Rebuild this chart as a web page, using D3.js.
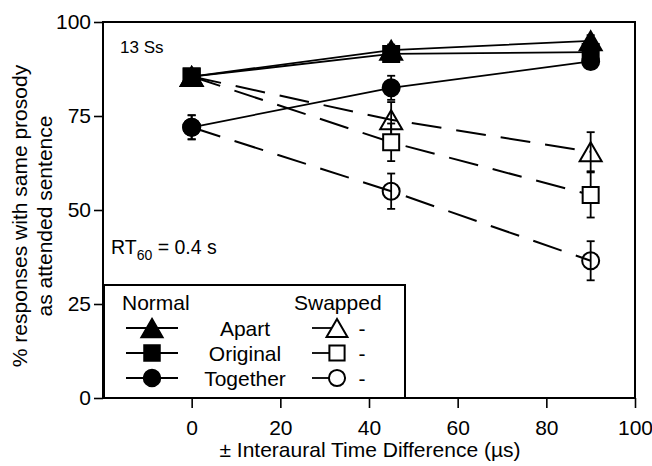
<!DOCTYPE html>
<html>
<head>
<meta charset="utf-8">
<script src="https://cdn.jsdelivr.net/npm/d3@7"></script>
<style>
  body { margin: 0; background: #fff; }
  svg { display: block; }
  text { font-family: "Liberation Sans", Arial, Helvetica, sans-serif; fill: #000; }
</style>
</head>
<body>
<svg id="chart" width="652" height="466"></svg>
<script>
// ---- data ----
const itd = [0, 45, 90];
const xTicks = [0, 20, 40, 60, 80, 100];
const yTicks = [0, 25, 50, 75, 100];

const normalApart      = [85.5, 92.5, 95];
const normalApartErr   = [1.5, 1.5, 1.5];
const normalOriginal   = [85.5, 91.5, 92];
const normalOriginalErr= [1.5, 1.5, 1.5];
const normalTogether   = [72, 82.5, 89.5];
const normalTogetherErr= [3.2, 3.2, 2.0];

const swappedApart      = [85.5, 74, 65.5];
const swappedApartErr   = [1.5, 4.7, 5.2];
const swappedOriginal   = [85.5, 68, 54];
const swappedOriginalErr= [1.5, 5, 6];
const swappedTogether   = [72, 55, 36.5];
const swappedTogetherErr= [3.2, 4.7, 5.2];

const legendRows = ["Apart", "Original", "Together"];

// ---- layout ----
const svg = d3.select("#chart");
const x = d3.scaleLinear().domain([-20, 100]).range([103, 635]);
const y = d3.scaleLinear().domain([0, 100]).range([398, 22]);

// marker path generators (bbox-centred)
function markerPath(shape, s) {
  const p = d3.path();
  if (shape === "triangle") {
    const hw = 11 * s, hh = 9.5 * s;
    p.moveTo(0, -hh); p.lineTo(hw, hh); p.lineTo(-hw, hh); p.closePath();
  } else if (shape === "square") {
    const h = 8 * s;
    p.rect(-h, -h, 2 * h, 2 * h);
  } else {
    p.arc(0, 0, 8.5 * s, 0, 2 * Math.PI);
  }
  return p.toString();
}

const series = [
  {vals: swappedApart, err: swappedApartErr, shape: "triangle", filled: false},
  {vals: swappedOriginal, err: swappedOriginalErr, shape: "square", filled: false},
  {vals: swappedTogether, err: swappedTogetherErr, shape: "circle", filled: false},
  {vals: normalTogether, err: normalTogetherErr, shape: "circle", filled: true},
  {vals: normalOriginal, err: normalOriginalErr, shape: "square", filled: true},
  {vals: normalApart, err: normalApartErr, shape: "triangle", filled: true}
];

const line = d3.line().x((d, i) => x(itd[i])).y(d => y(d));

// frame
svg.append("rect").attr("x", x(-20)).attr("y", y(100))
  .attr("width", x(100) - x(-20)).attr("height", y(0) - y(100))
  .attr("fill", "none").attr("stroke", "#000").attr("stroke-width", 2);

// axes
const yAxis = svg.append("g").attr("transform", `translate(${x(-20)},0)`)
  .call(d3.axisLeft(y).tickValues(yTicks).tickSize(9).tickPadding(3));
const xAxis = svg.append("g").attr("transform", `translate(0,${y(0)})`)
  .call(d3.axisBottom(x).tickValues(xTicks).tickSize(10).tickPadding(12));
[xAxis, yAxis].forEach(g => {
  g.select(".domain").remove();
  g.selectAll(".tick line").attr("stroke", "#000").attr("stroke-width", 1.6);
  g.selectAll(".tick text").style("font-size", "21px")
    .style("font-family", '"Liberation Sans", Arial, Helvetica, sans-serif');
});

// series lines, error bars and markers
series.forEach(s => {
  svg.append("path").datum(s.vals).attr("d", line)
    .attr("fill", "none").attr("stroke", "#000")
    .attr("stroke-width", s.filled ? 1.8 : 2)
    .attr("stroke-dasharray", s.filled ? null : "30,15");
});
series.forEach(s => {
  const g = svg.append("g");
  s.vals.forEach((v, i) => {
    const cx = x(itd[i]);
    const e = s.err[i];
    g.append("line").attr("x1", cx).attr("x2", cx).attr("y1", y(v + e)).attr("y2", y(v - e))
      .attr("stroke", "#000").attr("stroke-width", 1.8);
    [v + e, v - e].forEach(t => {
      g.append("line").attr("x1", cx - 4).attr("x2", cx + 4).attr("y1", y(t)).attr("y2", y(t))
        .attr("stroke", "#000").attr("stroke-width", 1.8);
    });
  });
  g.selectAll("path.m").data(s.vals).join("path").attr("class", "m")
    .attr("transform", (d, i) => `translate(${x(itd[i])},${y(d)})`)
    .attr("d", markerPath(s.shape, 1))
    .attr("fill", s.filled ? "#000" : (s.shape === "square" ? "#fff" : "none"))
    .attr("stroke", "#000").attr("stroke-width", 2);
});

// annotations
svg.append("text").attr("x", 120).attr("y", 53).style("font-size", "17px").text("13 Ss");
const rt = svg.append("text").attr("x", 111).attr("y", 254).style("font-size", "19.5px");
rt.append("tspan").text("RT");
rt.append("tspan").attr("dy", 6).style("font-size", "14px").text("60");
rt.append("tspan").attr("dy", -6).text(" = 0.4 s");

// axis titles
svg.append("text").attr("x", 370).attr("y", 457).attr("text-anchor", "middle")
  .style("font-size", "21px").text("± Interaural Time Difference (µs)");
svg.append("text").attr("transform", "translate(27,216) rotate(-90)").attr("text-anchor", "middle")
  .style("font-size", "21px").text("% responses with same prosody");
svg.append("text").attr("transform", "translate(52,216) rotate(-90)").attr("text-anchor", "middle")
  .style("font-size", "21px").text("as attended sentence");

// legend
const lg = svg.append("g");
lg.append("rect").attr("x", 104).attr("y", 285).attr("width", 301).attr("height", 113)
  .attr("fill", "#fff").attr("stroke", "#000").attr("stroke-width", 2);
lg.append("text").attr("x", 122).attr("y", 310).style("font-size", "21px").text("Normal");
lg.append("text").attr("x", 294).attr("y", 310).style("font-size", "21px").text("Swapped");
const shapes = ["triangle", "square", "circle"];
legendRows.forEach((name, i) => {
  const cy = 328 + i * 25;
  lg.append("line").attr("x1", 126).attr("x2", 178).attr("y1", cy).attr("y2", cy)
    .attr("stroke", "#000").attr("stroke-width", 1.8);
  lg.append("path").attr("transform", `translate(152,${cy})`).attr("d", markerPath(shapes[i], 1.0))
    .attr("fill", "#000").attr("stroke", "#000").attr("stroke-width", 1.5);
  lg.append("text").attr("x", 245).attr("y", cy + 8).attr("text-anchor", "middle")
    .style("font-size", "21px").text(name);
  lg.append("line").attr("x1", 312).attr("x2", 337).attr("y1", cy).attr("y2", cy)
    .attr("stroke", "#000").attr("stroke-width", 1.8);
  lg.append("path").attr("transform", `translate(337,${cy})`).attr("d", markerPath(shapes[i], 0.95))
    .attr("fill", "#fff").attr("stroke", "#000").attr("stroke-width", 2);
  lg.append("text").attr("x", 362).attr("y", cy + 8).attr("text-anchor", "middle")
    .style("font-size", "21px").text("-");
});
</script>
</body>
</html>
